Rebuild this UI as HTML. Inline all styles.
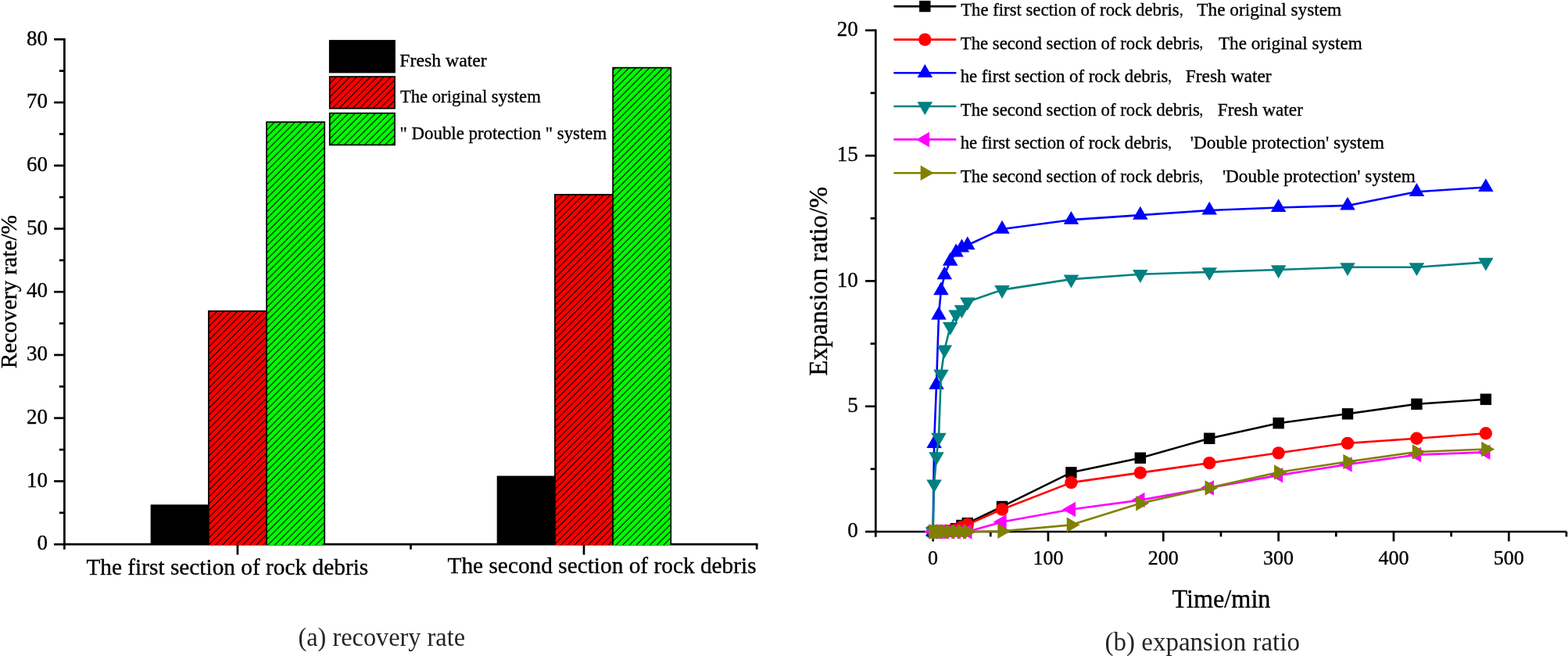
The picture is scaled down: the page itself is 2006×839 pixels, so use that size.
<!DOCTYPE html>
<html><head><meta charset="utf-8"><title>Recovery rate and expansion ratio</title>
<style>html,body{margin:0;padding:0;background:#fff;}body{width:2006px;height:839px;overflow:hidden;}svg{display:block;}text{font-family:"Liberation Serif", "Noto Serif CJK SC", "Noto Sans CJK SC", serif;fill:#000;stroke:#000;stroke-width:0.35px;}</style>
</head><body>
<svg width="2006" height="839" viewBox="0 0 2006 839">
<defs>
<pattern id="h1r" patternUnits="userSpaceOnUse" width="6.17" height="6.17" patternTransform="translate(3.2,0) rotate(45)"><rect x="0" y="0" width="1.1" height="6.17" fill="#000"/></pattern>
<pattern id="h1g" patternUnits="userSpaceOnUse" width="6.17" height="6.17" patternTransform="translate(0.6,0) rotate(45)"><rect x="0" y="0" width="1.1" height="6.17" fill="#000"/></pattern>
<pattern id="h2r" patternUnits="userSpaceOnUse" width="6.17" height="6.17" patternTransform="translate(0.0,0) rotate(45)"><rect x="0" y="0" width="1.1" height="6.17" fill="#000"/></pattern>
<pattern id="h2g" patternUnits="userSpaceOnUse" width="6.17" height="6.17" patternTransform="translate(0.75,0) rotate(45)"><rect x="0" y="0" width="1.1" height="6.17" fill="#000"/></pattern>
<pattern id="hlr" patternUnits="userSpaceOnUse" width="6.17" height="6.17" patternTransform="translate(4.3,0) rotate(45)"><rect x="0" y="0" width="1.1" height="6.17" fill="#000"/></pattern>
<pattern id="hlg" patternUnits="userSpaceOnUse" width="6.17" height="6.17" patternTransform="translate(-3.6,0) rotate(45)"><rect x="0" y="0" width="1.1" height="6.17" fill="#000"/></pattern>
</defs>
<rect x="0" y="0" width="2006" height="839" fill="#fff"/>
<g stroke="#000" stroke-width="2.7" fill="none" stroke-linecap="butt">
<line x1="82.4" y1="48.90" x2="82.4" y2="702.7"/>
<line x1="81.05" y1="696.2" x2="969.5" y2="696.2"/>
<line x1="69.1" y1="696.20" x2="82.4" y2="696.20"/>
<line x1="69.1" y1="615.46" x2="82.4" y2="615.46"/>
<line x1="69.1" y1="534.73" x2="82.4" y2="534.73"/>
<line x1="69.1" y1="453.99" x2="82.4" y2="453.99"/>
<line x1="69.1" y1="373.25" x2="82.4" y2="373.25"/>
<line x1="69.1" y1="292.51" x2="82.4" y2="292.51"/>
<line x1="69.1" y1="211.78" x2="82.4" y2="211.78"/>
<line x1="69.1" y1="131.04" x2="82.4" y2="131.04"/>
<line x1="69.1" y1="50.30" x2="82.4" y2="50.30"/>
<line x1="75.8" y1="655.83" x2="82.4" y2="655.83"/>
<line x1="75.8" y1="575.09" x2="82.4" y2="575.09"/>
<line x1="75.8" y1="494.36" x2="82.4" y2="494.36"/>
<line x1="75.8" y1="413.62" x2="82.4" y2="413.62"/>
<line x1="75.8" y1="332.88" x2="82.4" y2="332.88"/>
<line x1="75.8" y1="252.14" x2="82.4" y2="252.14"/>
<line x1="75.8" y1="171.41" x2="82.4" y2="171.41"/>
<line x1="75.8" y1="90.67" x2="82.4" y2="90.67"/>
<line x1="303.95" y1="696.2" x2="303.95" y2="709.5"/>
<line x1="747.0" y1="696.2" x2="747.0" y2="709.5"/>
<line x1="525.5" y1="696.2" x2="525.5" y2="702.7"/>
<line x1="968.2" y1="696.2" x2="968.2" y2="702.7"/>
</g>
<rect x="192.65" y="645.34" width="74.20" height="51.66" fill="#000"/>
<rect x="266.85" y="397.87" width="74.20" height="299.13" fill="#ff0000"/>
<rect x="266.85" y="397.87" width="74.20" height="299.13" fill="url(#h1r)"/>
<path d="M266.85,697.0 V397.87 H341.05 V697.0" fill="none" stroke="#000" stroke-width="1.7"/>
<rect x="341.05" y="156.07" width="74.20" height="540.93" fill="#00ff00"/>
<rect x="341.05" y="156.07" width="74.20" height="540.93" fill="url(#h1g)"/>
<path d="M341.05,697.0 V156.07 H415.25 V697.0" fill="none" stroke="#000" stroke-width="1.7"/>
<rect x="635.70" y="608.60" width="74.20" height="88.40" fill="#000"/>
<rect x="709.90" y="248.91" width="74.20" height="448.09" fill="#ff0000"/>
<rect x="709.90" y="248.91" width="74.20" height="448.09" fill="url(#h2r)"/>
<path d="M709.90,697.0 V248.91 H784.10 V697.0" fill="none" stroke="#000" stroke-width="1.7"/>
<rect x="784.10" y="86.63" width="74.20" height="610.37" fill="#00ff00"/>
<rect x="784.10" y="86.63" width="74.20" height="610.37" fill="url(#h2g)"/>
<path d="M784.10,697.0 V86.63 H858.30 V697.0" fill="none" stroke="#000" stroke-width="1.7"/>
<text x="61.0" y="703.40" font-size="27" text-anchor="end">0</text>
<text x="61.0" y="622.66" font-size="27" text-anchor="end">10</text>
<text x="61.0" y="541.93" font-size="27" text-anchor="end">20</text>
<text x="61.0" y="461.19" font-size="27" text-anchor="end">30</text>
<text x="61.0" y="380.45" font-size="27" text-anchor="end">40</text>
<text x="61.0" y="299.71" font-size="27" text-anchor="end">50</text>
<text x="61.0" y="218.98" font-size="27" text-anchor="end">60</text>
<text x="61.0" y="138.24" font-size="27" text-anchor="end">70</text>
<text x="61.0" y="57.50" font-size="27" text-anchor="end">80</text>
<text x="110.41" y="734.80" font-size="30.0" textLength="360.83" lengthAdjust="spacingAndGlyphs">The first section of rock debris</text>
<text x="572.51" y="732.70" font-size="30.0" textLength="395.11" lengthAdjust="spacingAndGlyphs">The second section of rock debris</text>
<text transform="translate(20.50,470.50) rotate(-90)" x="-0.73" y="0" font-size="30.0" textLength="196.20" lengthAdjust="spacingAndGlyphs">Recovery rate/%</text>
<rect x="420.9" y="51.1" width="85.0" height="42.3" fill="#000"/>
<rect x="421.75" y="98.05" width="83.3" height="40.599999999999994" fill="#ff0000"/>
<rect x="421.75" y="98.05" width="83.3" height="40.599999999999994" fill="url(#hlr)" stroke="#000" stroke-width="1.7"/>
<rect x="421.75" y="144.75" width="83.3" height="40.599999999999994" fill="#00ff00"/>
<rect x="421.75" y="144.75" width="83.3" height="40.599999999999994" fill="url(#hlg)" stroke="#000" stroke-width="1.7"/>
<text x="511.36" y="84.80" font-size="24.0" textLength="111.38" lengthAdjust="spacingAndGlyphs">Fresh water</text>
<text x="511.93" y="130.70" font-size="24.0" textLength="179.84" lengthAdjust="spacingAndGlyphs">The original system</text>
<text x="511.57" y="177.70" font-size="24.0" textLength="264.67" lengthAdjust="spacingAndGlyphs">" Double protection " system</text>
<text x="381.47" y="825.80" font-size="34.0" textLength="213.58" lengthAdjust="spacingAndGlyphs" style="fill:#252525;stroke:none">(a) recovery rate</text>
<g stroke="#000" stroke-width="2.7" fill="none">
<line x1="1120.3" y1="37.40" x2="1120.3" y2="686.7"/>
<line x1="1118.95" y1="680.0" x2="2004.0" y2="680.0"/>
<line x1="1107" y1="680.00" x2="1120.3" y2="680.00"/>
<line x1="1107" y1="519.70" x2="1120.3" y2="519.70"/>
<line x1="1107" y1="359.40" x2="1120.3" y2="359.40"/>
<line x1="1107" y1="199.10" x2="1120.3" y2="199.10"/>
<line x1="1107" y1="38.80" x2="1120.3" y2="38.80"/>
<line x1="1113.6" y1="599.85" x2="1120.3" y2="599.85"/>
<line x1="1113.6" y1="439.55" x2="1120.3" y2="439.55"/>
<line x1="1113.6" y1="279.25" x2="1120.3" y2="279.25"/>
<line x1="1113.6" y1="118.95" x2="1120.3" y2="118.95"/>
<line x1="1193.60" y1="680.0" x2="1193.60" y2="692.4"/>
<line x1="1340.94" y1="680.0" x2="1340.94" y2="692.4"/>
<line x1="1488.28" y1="680.0" x2="1488.28" y2="692.4"/>
<line x1="1635.62" y1="680.0" x2="1635.62" y2="692.4"/>
<line x1="1782.96" y1="680.0" x2="1782.96" y2="692.4"/>
<line x1="1930.30" y1="680.0" x2="1930.30" y2="692.4"/>
<line x1="1267.27" y1="680.0" x2="1267.27" y2="686.4"/>
<line x1="1414.61" y1="680.0" x2="1414.61" y2="686.4"/>
<line x1="1561.95" y1="680.0" x2="1561.95" y2="686.4"/>
<line x1="1709.29" y1="680.0" x2="1709.29" y2="686.4"/>
<line x1="1856.63" y1="680.0" x2="1856.63" y2="686.4"/>
<line x1="2003.97" y1="680.0" x2="2003.97" y2="686.4"/>
</g>
<text x="1097.8" y="687.20" font-size="27" text-anchor="end">0</text>
<text x="1097.8" y="526.90" font-size="27" text-anchor="end">5</text>
<text x="1097.8" y="366.60" font-size="27" text-anchor="end">10</text>
<text x="1097.8" y="206.30" font-size="27" text-anchor="end">15</text>
<text x="1097.8" y="46.00" font-size="27" text-anchor="end">20</text>
<text x="1193.60" y="721.8" font-size="26" text-anchor="middle">0</text>
<text x="1340.94" y="721.8" font-size="26" text-anchor="middle">100</text>
<text x="1488.28" y="721.8" font-size="26" text-anchor="middle">200</text>
<text x="1635.62" y="721.8" font-size="26" text-anchor="middle">300</text>
<text x="1782.96" y="721.8" font-size="26" text-anchor="middle">400</text>
<text x="1930.30" y="721.8" font-size="26" text-anchor="middle">500</text>
<text x="1499.41" y="777.00" font-size="33.0" textLength="126.08" lengthAdjust="spacingAndGlyphs">Time/min</text>
<text transform="translate(1057.70,479.80) rotate(-90)" x="-0.99" y="0" font-size="33.0" textLength="241.98" lengthAdjust="spacingAndGlyphs">Expansion ratio/%</text>
<text x="1413.53" y="832.30" font-size="33.8" textLength="249.42" lengthAdjust="spacingAndGlyphs" style="fill:#252525;stroke:none">(b) expansion ratio</text>
<polyline points="1193.60,680.00 1195.07,680.00 1198.02,680.00 1200.97,680.00 1203.91,680.00 1208.33,679.36 1215.70,678.40 1223.07,676.15 1230.43,671.99 1237.80,669.10 1282.00,647.94 1370.41,604.34 1458.81,585.74 1547.22,560.74 1635.62,541.18 1724.02,529.32 1812.43,516.81 1900.83,510.72" fill="none" stroke="#000000" stroke-width="2.6" stroke-linejoin="round"/>
<rect x="1186.40" y="672.80" width="14.4" height="14.4" fill="#000000"/>
<rect x="1187.87" y="672.80" width="14.4" height="14.4" fill="#000000"/>
<rect x="1190.82" y="672.80" width="14.4" height="14.4" fill="#000000"/>
<rect x="1193.77" y="672.80" width="14.4" height="14.4" fill="#000000"/>
<rect x="1196.71" y="672.80" width="14.4" height="14.4" fill="#000000"/>
<rect x="1201.13" y="672.16" width="14.4" height="14.4" fill="#000000"/>
<rect x="1208.50" y="671.20" width="14.4" height="14.4" fill="#000000"/>
<rect x="1215.87" y="668.95" width="14.4" height="14.4" fill="#000000"/>
<rect x="1223.23" y="664.78" width="14.4" height="14.4" fill="#000000"/>
<rect x="1230.60" y="661.90" width="14.4" height="14.4" fill="#000000"/>
<rect x="1274.80" y="640.74" width="14.4" height="14.4" fill="#000000"/>
<rect x="1363.21" y="597.14" width="14.4" height="14.4" fill="#000000"/>
<rect x="1451.61" y="578.54" width="14.4" height="14.4" fill="#000000"/>
<rect x="1540.02" y="553.54" width="14.4" height="14.4" fill="#000000"/>
<rect x="1628.42" y="533.98" width="14.4" height="14.4" fill="#000000"/>
<rect x="1716.82" y="522.12" width="14.4" height="14.4" fill="#000000"/>
<rect x="1805.23" y="509.61" width="14.4" height="14.4" fill="#000000"/>
<rect x="1893.63" y="503.52" width="14.4" height="14.4" fill="#000000"/>
<polyline points="1193.60,680.00 1195.07,680.00 1198.02,680.00 1200.97,680.00 1203.91,680.00 1208.33,679.68 1215.70,679.04 1223.07,677.76 1230.43,673.91 1237.80,670.70 1282.00,651.47 1370.41,617.16 1458.81,604.66 1547.22,592.16 1635.62,579.33 1724.02,566.83 1812.43,560.74 1900.83,554.32" fill="none" stroke="#ff0000" stroke-width="2.6" stroke-linejoin="round"/>
<circle cx="1193.60" cy="680.00" r="8.2" fill="#ff0000"/>
<circle cx="1195.07" cy="680.00" r="8.2" fill="#ff0000"/>
<circle cx="1198.02" cy="680.00" r="8.2" fill="#ff0000"/>
<circle cx="1200.97" cy="680.00" r="8.2" fill="#ff0000"/>
<circle cx="1203.91" cy="680.00" r="8.2" fill="#ff0000"/>
<circle cx="1208.33" cy="679.68" r="8.2" fill="#ff0000"/>
<circle cx="1215.70" cy="679.04" r="8.2" fill="#ff0000"/>
<circle cx="1223.07" cy="677.76" r="8.2" fill="#ff0000"/>
<circle cx="1230.43" cy="673.91" r="8.2" fill="#ff0000"/>
<circle cx="1237.80" cy="670.70" r="8.2" fill="#ff0000"/>
<circle cx="1282.00" cy="651.47" r="8.2" fill="#ff0000"/>
<circle cx="1370.41" cy="617.16" r="8.2" fill="#ff0000"/>
<circle cx="1458.81" cy="604.66" r="8.2" fill="#ff0000"/>
<circle cx="1547.22" cy="592.16" r="8.2" fill="#ff0000"/>
<circle cx="1635.62" cy="579.33" r="8.2" fill="#ff0000"/>
<circle cx="1724.02" cy="566.83" r="8.2" fill="#ff0000"/>
<circle cx="1812.43" cy="560.74" r="8.2" fill="#ff0000"/>
<circle cx="1900.83" cy="554.32" r="8.2" fill="#ff0000"/>
<polyline points="1193.60,680.00 1195.07,567.47 1198.02,492.13 1200.97,403.00 1203.91,371.58 1208.33,351.71 1215.70,334.07 1223.07,322.85 1230.43,316.76 1237.80,313.55 1282.00,293.04 1370.41,281.17 1458.81,275.08 1547.22,268.99 1635.62,265.46 1724.02,262.90 1812.43,245.27 1900.83,239.50" fill="none" stroke="#0000ff" stroke-width="2.6" stroke-linejoin="round"/>
<polygon points="1193.60,668.74 1203.35,685.63 1183.85,685.63" fill="#0000ff"/>
<polygon points="1195.07,556.21 1204.82,573.10 1185.32,573.10" fill="#0000ff"/>
<polygon points="1198.02,480.87 1207.77,497.76 1188.27,497.76" fill="#0000ff"/>
<polygon points="1200.97,391.74 1210.72,408.63 1191.22,408.63" fill="#0000ff"/>
<polygon points="1203.91,360.32 1213.66,377.21 1194.16,377.21" fill="#0000ff"/>
<polygon points="1208.33,340.45 1218.08,357.33 1198.58,357.33" fill="#0000ff"/>
<polygon points="1215.70,322.81 1225.45,339.70 1205.95,339.70" fill="#0000ff"/>
<polygon points="1223.07,311.59 1232.82,328.48 1213.32,328.48" fill="#0000ff"/>
<polygon points="1230.43,305.50 1240.18,322.39 1220.68,322.39" fill="#0000ff"/>
<polygon points="1237.80,302.30 1247.55,319.18 1228.05,319.18" fill="#0000ff"/>
<polygon points="1282.00,281.78 1291.75,298.66 1272.25,298.66" fill="#0000ff"/>
<polygon points="1370.41,269.92 1380.16,286.80 1360.66,286.80" fill="#0000ff"/>
<polygon points="1458.81,263.82 1468.56,280.71 1449.06,280.71" fill="#0000ff"/>
<polygon points="1547.22,257.73 1556.97,274.62 1537.47,274.62" fill="#0000ff"/>
<polygon points="1635.62,254.21 1645.37,271.09 1625.87,271.09" fill="#0000ff"/>
<polygon points="1724.02,251.64 1733.77,268.53 1714.27,268.53" fill="#0000ff"/>
<polygon points="1812.43,234.01 1822.18,250.90 1802.68,250.90" fill="#0000ff"/>
<polygon points="1900.83,228.24 1910.58,245.12 1891.08,245.12" fill="#0000ff"/>
<polyline points="1193.60,680.00 1195.07,619.09 1198.02,583.82 1200.97,559.45 1203.91,478.34 1208.33,447.24 1215.70,417.75 1223.07,402.04 1230.43,395.95 1237.80,386.01 1282.00,370.62 1370.41,357.16 1458.81,350.74 1547.22,347.86 1635.62,344.97 1724.02,341.77 1812.43,341.77 1900.83,335.35" fill="none" stroke="#008080" stroke-width="2.6" stroke-linejoin="round"/>
<polygon points="1193.60,691.26 1203.35,674.37 1183.85,674.37" fill="#008080"/>
<polygon points="1195.07,630.34 1204.82,613.46 1185.32,613.46" fill="#008080"/>
<polygon points="1198.02,595.08 1207.77,578.19 1188.27,578.19" fill="#008080"/>
<polygon points="1200.97,570.71 1210.72,553.83 1191.22,553.83" fill="#008080"/>
<polygon points="1203.91,489.60 1213.66,472.71 1194.16,472.71" fill="#008080"/>
<polygon points="1208.33,458.50 1218.08,441.62 1198.58,441.62" fill="#008080"/>
<polygon points="1215.70,429.01 1225.45,412.12 1205.95,412.12" fill="#008080"/>
<polygon points="1223.07,413.30 1232.82,396.41 1213.32,396.41" fill="#008080"/>
<polygon points="1230.43,407.21 1240.18,390.32 1220.68,390.32" fill="#008080"/>
<polygon points="1237.80,397.27 1247.55,380.38 1228.05,380.38" fill="#008080"/>
<polygon points="1282.00,381.88 1291.75,364.99 1272.25,364.99" fill="#008080"/>
<polygon points="1370.41,368.41 1380.16,351.53 1360.66,351.53" fill="#008080"/>
<polygon points="1458.81,362.00 1468.56,345.11 1449.06,345.11" fill="#008080"/>
<polygon points="1547.22,359.12 1556.97,342.23 1537.47,342.23" fill="#008080"/>
<polygon points="1635.62,356.23 1645.37,339.34 1625.87,339.34" fill="#008080"/>
<polygon points="1724.02,353.03 1733.77,336.14 1714.27,336.14" fill="#008080"/>
<polygon points="1812.43,353.03 1822.18,336.14 1802.68,336.14" fill="#008080"/>
<polygon points="1900.83,346.61 1910.58,329.73 1891.08,329.73" fill="#008080"/>
<polyline points="1193.60,680.00 1195.07,680.00 1198.02,680.00 1200.97,680.00 1203.91,680.00 1208.33,680.00 1215.70,680.00 1223.07,680.00 1230.43,680.00 1237.80,680.00 1282.00,667.50 1370.41,651.47 1458.81,639.60 1547.22,623.89 1635.62,607.87 1724.02,594.08 1812.43,581.58 1900.83,578.37" fill="none" stroke="#ff00ff" stroke-width="2.6" stroke-linejoin="round"/>
<polygon points="1182.34,680.00 1199.23,670.25 1199.23,689.75" fill="#ff00ff"/>
<polygon points="1183.82,680.00 1200.70,670.25 1200.70,689.75" fill="#ff00ff"/>
<polygon points="1186.76,680.00 1203.65,670.25 1203.65,689.75" fill="#ff00ff"/>
<polygon points="1189.71,680.00 1206.60,670.25 1206.60,689.75" fill="#ff00ff"/>
<polygon points="1192.66,680.00 1209.54,670.25 1209.54,689.75" fill="#ff00ff"/>
<polygon points="1197.08,680.00 1213.96,670.25 1213.96,689.75" fill="#ff00ff"/>
<polygon points="1204.44,680.00 1221.33,670.25 1221.33,689.75" fill="#ff00ff"/>
<polygon points="1211.81,680.00 1228.70,670.25 1228.70,689.75" fill="#ff00ff"/>
<polygon points="1219.18,680.00 1236.06,670.25 1236.06,689.75" fill="#ff00ff"/>
<polygon points="1226.54,680.00 1243.43,670.25 1243.43,689.75" fill="#ff00ff"/>
<polygon points="1270.75,667.50 1287.63,657.75 1287.63,677.25" fill="#ff00ff"/>
<polygon points="1359.15,651.47 1376.04,641.72 1376.04,661.22" fill="#ff00ff"/>
<polygon points="1447.55,639.60 1464.44,629.85 1464.44,649.35" fill="#ff00ff"/>
<polygon points="1535.96,623.89 1552.85,614.14 1552.85,633.64" fill="#ff00ff"/>
<polygon points="1624.36,607.87 1641.25,598.12 1641.25,617.62" fill="#ff00ff"/>
<polygon points="1712.77,594.08 1729.65,584.33 1729.65,603.83" fill="#ff00ff"/>
<polygon points="1801.17,581.58 1818.06,571.83 1818.06,591.33" fill="#ff00ff"/>
<polygon points="1889.57,578.37 1906.46,568.62 1906.46,588.12" fill="#ff00ff"/>
<polyline points="1193.60,680.00 1195.07,680.00 1198.02,680.00 1200.97,680.00 1203.91,680.00 1208.33,680.00 1215.70,680.00 1223.07,680.00 1230.43,680.00 1237.80,680.00 1282.00,679.36 1370.41,671.34 1458.81,643.77 1547.22,623.89 1635.62,604.02 1724.02,590.55 1812.43,578.05 1900.83,574.52" fill="none" stroke="#808000" stroke-width="2.6" stroke-linejoin="round"/>
<polygon points="1204.86,680.00 1187.97,670.25 1187.97,689.75" fill="#808000"/>
<polygon points="1206.33,680.00 1189.44,670.25 1189.44,689.75" fill="#808000"/>
<polygon points="1209.28,680.00 1192.39,670.25 1192.39,689.75" fill="#808000"/>
<polygon points="1212.23,680.00 1195.34,670.25 1195.34,689.75" fill="#808000"/>
<polygon points="1215.17,680.00 1198.28,670.25 1198.28,689.75" fill="#808000"/>
<polygon points="1219.59,680.00 1202.70,670.25 1202.70,689.75" fill="#808000"/>
<polygon points="1226.96,680.00 1210.07,670.25 1210.07,689.75" fill="#808000"/>
<polygon points="1234.33,680.00 1217.44,670.25 1217.44,689.75" fill="#808000"/>
<polygon points="1241.69,680.00 1224.81,670.25 1224.81,689.75" fill="#808000"/>
<polygon points="1249.06,680.00 1232.17,670.25 1232.17,689.75" fill="#808000"/>
<polygon points="1293.26,679.36 1276.37,669.61 1276.37,689.11" fill="#808000"/>
<polygon points="1381.67,671.34 1364.78,661.59 1364.78,681.09" fill="#808000"/>
<polygon points="1470.07,643.77 1453.18,634.02 1453.18,653.52" fill="#808000"/>
<polygon points="1558.47,623.89 1541.59,614.14 1541.59,633.64" fill="#808000"/>
<polygon points="1646.88,604.02 1629.99,594.27 1629.99,613.77" fill="#808000"/>
<polygon points="1735.28,590.55 1718.39,580.80 1718.39,600.30" fill="#808000"/>
<polygon points="1823.69,578.05 1806.80,568.30 1806.80,587.80" fill="#808000"/>
<polygon points="1912.09,574.52 1895.20,564.77 1895.20,584.27" fill="#808000"/>
<line x1="1144.4" y1="8.1" x2="1222.2" y2="8.1" stroke="#000000" stroke-width="2.6" stroke-linecap="round"/>
<rect x="1176.10" y="0.90" width="14.4" height="14.4" fill="#000000"/>
<text x="1229.22" y="19.80" font-size="23.8" textLength="279.39" lengthAdjust="spacingAndGlyphs">The first section of rock debris</text>
<text x="1508.40" y="18.50" font-size="17.0">，</text>
<text x="1531.31" y="19.80" font-size="23.8" textLength="184.85" lengthAdjust="spacingAndGlyphs">The original system</text>
<line x1="1144.4" y1="50.6" x2="1222.2" y2="50.6" stroke="#ff0000" stroke-width="2.6" stroke-linecap="round"/>
<circle cx="1183.30" cy="50.60" r="8.2" fill="#ff0000"/>
<text x="1228.82" y="62.60" font-size="23.8" textLength="305.99" lengthAdjust="spacingAndGlyphs">The second section of rock debris</text>
<text x="1533.90" y="61.30" font-size="17.0">，</text>
<text x="1559.01" y="62.60" font-size="23.8" textLength="183.64" lengthAdjust="spacingAndGlyphs">The original system</text>
<line x1="1144.4" y1="93.3" x2="1222.2" y2="93.3" stroke="#0000ff" stroke-width="2.6" stroke-linecap="round"/>
<polygon points="1183.30,82.04 1193.05,98.93 1173.55,98.93" fill="#0000ff"/>
<text x="1228.66" y="105.00" font-size="23.8" textLength="265.66" lengthAdjust="spacingAndGlyphs">he first section of rock debris</text>
<text x="1493.70" y="103.70" font-size="17.0">，</text>
<text x="1516.76" y="105.00" font-size="23.8" textLength="109.92" lengthAdjust="spacingAndGlyphs">Fresh water</text>
<line x1="1144.4" y1="136.0" x2="1222.2" y2="136.0" stroke="#008080" stroke-width="2.6" stroke-linecap="round"/>
<polygon points="1183.30,147.26 1193.05,130.37 1173.55,130.37" fill="#008080"/>
<text x="1228.82" y="147.90" font-size="23.8" textLength="305.99" lengthAdjust="spacingAndGlyphs">The second section of rock debris</text>
<text x="1533.90" y="146.60" font-size="17.0">，</text>
<text x="1557.77" y="147.90" font-size="23.8" textLength="109.12" lengthAdjust="spacingAndGlyphs">Fresh water</text>
<line x1="1144.4" y1="178.4" x2="1222.2" y2="178.4" stroke="#ff00ff" stroke-width="2.6" stroke-linecap="round"/>
<polygon points="1172.04,178.40 1188.93,168.65 1188.93,188.15" fill="#ff00ff"/>
<text x="1228.66" y="190.00" font-size="23.8" textLength="265.66" lengthAdjust="spacingAndGlyphs">he first section of rock debris</text>
<text x="1493.70" y="188.70" font-size="17.0">，</text>
<text x="1522.82" y="190.00" font-size="23.8" textLength="248.03" lengthAdjust="spacingAndGlyphs">'Double protection' system</text>
<line x1="1144.4" y1="221.2" x2="1222.2" y2="221.2" stroke="#808000" stroke-width="2.6" stroke-linecap="round"/>
<polygon points="1194.56,221.20 1177.67,211.45 1177.67,230.95" fill="#808000"/>
<text x="1228.82" y="232.90" font-size="23.8" textLength="305.99" lengthAdjust="spacingAndGlyphs">The second section of rock debris</text>
<text x="1533.90" y="231.60" font-size="17.0">，</text>
<text x="1563.92" y="232.90" font-size="23.8" textLength="246.93" lengthAdjust="spacingAndGlyphs">'Double protection' system</text>
</svg>
</body></html>
